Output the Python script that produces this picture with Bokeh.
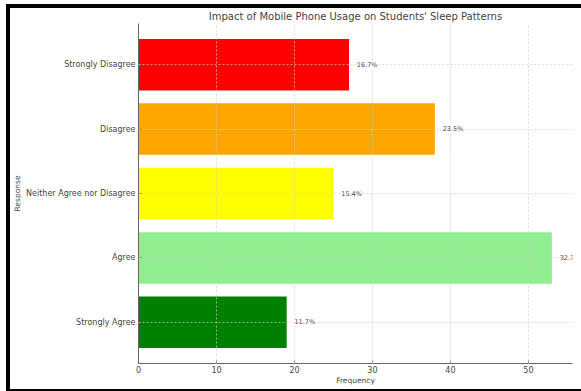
from bokeh.plotting import figure
from bokeh.models import ColumnDataSource, Range1d, FactorRange, FixedTicker
from bokeh.core.properties import value
from bokeh.embed import file_html
from bokeh.resources import INLINE

responses = ["Strongly Agree", "Agree", "Neither Agree nor Disagree", "Disagree", "Strongly Disagree"]
frequency = [19, 53, 25, 38, 27]
colors = ["green", "lightgreen", "yellow", "orange", "red"]
x_ticks = [0, 10, 20, 30, 40, 50]

total = sum(frequency)
pct_labels = [f"{f / total * 100:.1f}%" for f in frequency]
label_x = [f + 1 for f in frequency]

src = ColumnDataSource(dict(resp=responses, freq=frequency, color=colors,
                            lx=label_x, lab=pct_labels))

FONT = "DejaVu Sans"
p = figure(width=581, height=391, output_backend="svg", toolbar_location=None,
           y_range=FactorRange(factors=responses, range_padding=0.056),
           x_range=Range1d(0, max(frequency) * 1.05),
           title="Impact of Mobile Phone Usage on Students' Sleep Patterns",
           min_border_left=138, min_border_right=9, min_border_top=23, min_border_bottom=28)

# black frame of the picture (top, left, bottom) painted as the page background
p.border_fill_color = None
p.background_fill_color = "white"
p.styles = {"background":
            "linear-gradient(black, black) 6px 4px / 575px 4px no-repeat, "
            "linear-gradient(black, black) 6px 4px / 4px 387px no-repeat, "
            "linear-gradient(black, black) 6px 389px / 575px 2px no-repeat, white"}

p.hbar(y="resp", right="freq", left=0, height=0.8, color="color", source=src, line_color=None)
p.text(x="lx", y="resp", text="lab", source=src, text_font=value(FONT),
       text_font_size="6.5px", text_color="#444444",
       text_baseline="middle", text_align="left")

p.title.align = "center"
p.title.text_font = FONT
p.title.text_font_size = "10px"
p.title.text_font_style = "normal"
p.title.text_color = "#444444"
p.title.offset = 0
p.title.standoff = 4

for ax in (p.xaxis[0], p.yaxis[0]):
    ax.axis_line_color = "#666666"
    ax.major_tick_line_color = "#666666"
    ax.major_tick_in = 3
    ax.major_tick_out = 0
    ax.minor_tick_line_color = None
    ax.major_label_text_font = FONT
    ax.major_label_text_font_size = "8px"
    ax.major_label_text_color = "#444444"
    ax.axis_label_text_font = FONT
    ax.axis_label_text_font_size = "7.5px"
    ax.axis_label_text_font_style = "normal"
    ax.axis_label_text_color = "#444444"
    ax.axis_label_standoff = 1
    ax.major_label_standoff = 3

p.xaxis[0].major_label_standoff = 2
p.xaxis[0].axis_label_standoff = 0

p.xaxis.ticker = FixedTicker(ticks=x_ticks)
p.xaxis.axis_label = "Frequency"
p.yaxis.axis_label = "Response"

for g in (p.xgrid[0], p.ygrid[0]):
    g.grid_line_color = "#cccccc"
    g.grid_line_alpha = 0.7
    g.grid_line_dash = "2 2"
    g.level = "overlay"
p.outline_line_color = None

open("out.html", "w").write(file_html(p, INLINE))
